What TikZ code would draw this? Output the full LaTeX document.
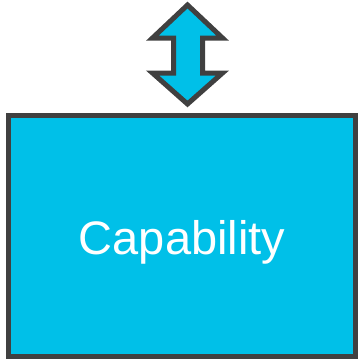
\documentclass[tikz,border=0pt]{standalone}
\usepackage{fontspec}
\setmainfont{Liberation Sans}
\definecolor{capfill}{RGB}{0,192,232}
\definecolor{capline}{RGB}{64,64,64}
\begin{document}
\begin{tikzpicture}[x=1pt,y=-1pt,
  shapestyle/.style={fill=capfill,draw=capline,line width=5pt,line join=miter,miter limit=10}]
\useasboundingbox (0,0) rectangle (357,359);
\draw[shapestyle] (8.5,115.5) rectangle (355,356.5);
\node[coordinate] (box) at (182,236) {};
\draw[shapestyle] (187.5,5) -- (222.5,38) -- (202.5,38) -- (202.5,73) -- (222.5,73)
  -- (187.5,104) -- (152.5,73) -- (173.5,73) -- (173.5,38) -- (152.5,38) -- cycle;
\node[anchor=base,text=white,font=\fontsize{47}{56}\selectfont,inner sep=0pt] (label) at (182,254) {Capability};
\end{tikzpicture}
\end{document}
